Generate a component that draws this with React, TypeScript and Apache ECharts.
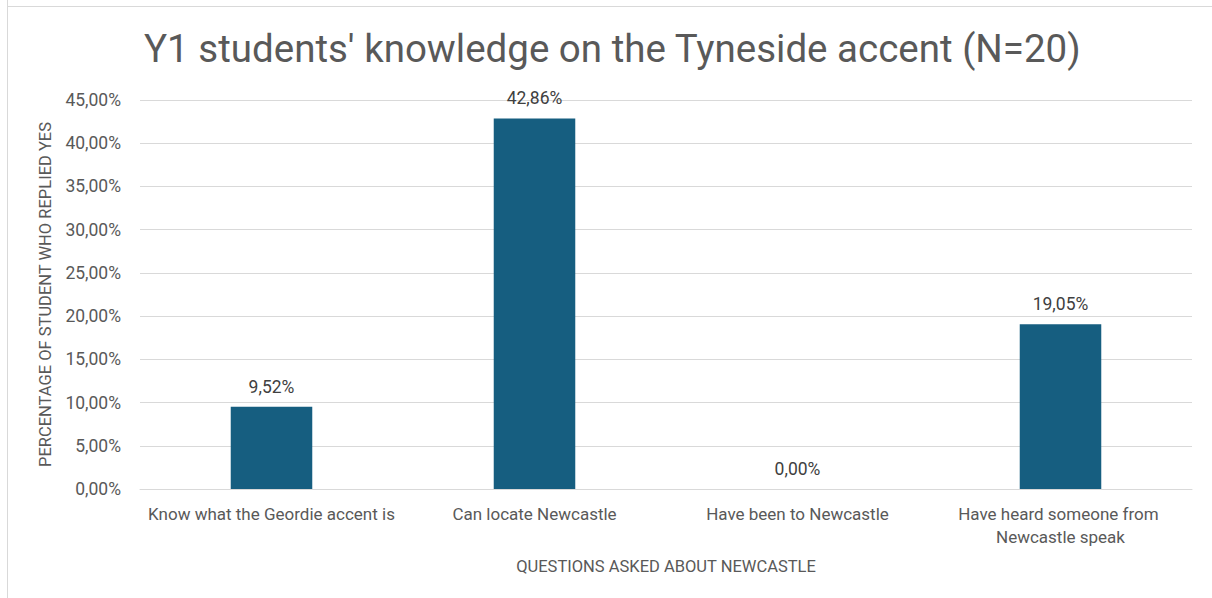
import React, { useEffect, useRef } from "react";
import * as echarts from "echarts";

const titleText = "Y1 students' knowledge on the Tyneside accent (N=20)";
const categories = [
  "Know what the Geordie accent is",
  "Can locate Newcastle",
  "Have been to Newcastle",
  "Have heard someone from Newcastle speak",
];
const values = [9.52, 42.86, 0.0, 19.05];
const yAxisName = "PERCENTAGE OF STUDENT WHO REPLIED YES";
const xAxisName = "QUESTIONS ASKED ABOUT NEWCASTLE";

const fmt = (v: number) => v.toFixed(2).replace(".", ",") + "%";
const FONT = "Roboto, 'Open Sans', sans-serif";
const GREY = "#595959";

export default function App() {
  const ref = useRef<HTMLDivElement>(null);
  useEffect(() => {
    document.body.style.margin = "0";
    const chart = echarts.init(ref.current!, undefined, { renderer: "svg" });
    chart.setOption({
      animation: false,
      backgroundColor: "#ffffff",
      textStyle: { fontFamily: FONT },
      title: {
        text: titleText,
        left: 144,
        top: 29,
        padding: 0,
        textStyle: { fontSize: 38.5, fontWeight: "normal", color: GREY, fontFamily: FONT },
      },
      graphic: [
        {
          type: "line",
          shape: { x1: 7.5, y1: 0, x2: 7.5, y2: 598 },
          style: { stroke: "#d9d9d9", lineWidth: 1 },
          z: -1,
        },
        {
          type: "line",
          shape: { x1: 7, y1: 6.5, x2: 1212, y2: 6.5 },
          style: { stroke: "#d9d9d9", lineWidth: 1 },
          z: -1,
        },
      ],
      grid: { left: 140, right: 20, top: 100, bottom: 109 },
      xAxis: {
        type: "category",
        data: categories,
        name: xAxisName,
        nameLocation: "middle",
        nameGap: 69,
        nameTextStyle: { fontSize: 16.5, color: GREY },
        axisLine: { show: true, lineStyle: { color: "#d9d9d9", width: 1 } },
        axisTick: { show: false },
        axisLabel: {
          fontSize: 17,
          color: GREY,
          margin: 13,
          interval: 0,
          width: 258,
          overflow: "break",
          lineHeight: 23,
        },
      },
      yAxis: {
        type: "value",
        min: 0,
        max: 45,
        interval: 5,
        name: yAxisName,
        nameLocation: "middle",
        nameGap: 86,
        nameTextStyle: { fontSize: 16.5, color: GREY },
        axisLine: { show: false },
        axisTick: { show: false },
        axisLabel: { fontSize: 17.5, color: GREY, margin: 19, formatter: (v: number) => fmt(v) },
        splitLine: { lineStyle: { color: "#d9d9d9", width: 1 } },
      },
      series: [
        {
          type: "bar",
          data: values,
          barWidth: "31%",
          itemStyle: { color: "#165E80" },
          label: {
            show: true,
            position: "top",
            distance: 11,
            fontSize: 17.5,
            color: "#404040",
            formatter: (p: any) => fmt(p.value),
          },
        },
      ],
    });
    return () => chart.dispose();
  }, []);
  return <div ref={ref} style={{ width: 1212, height: 598 }} />;
}
